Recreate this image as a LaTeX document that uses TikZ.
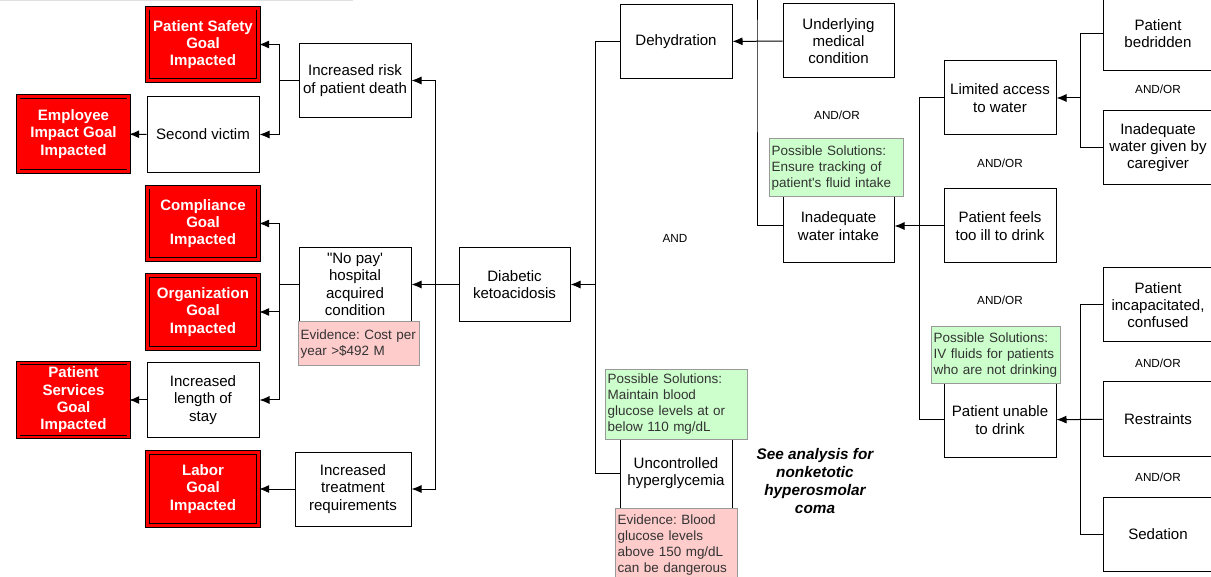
\documentclass[tikz,border=0pt]{standalone}
\usepackage{fontspec}
\setmainfont{Liberation Sans}[Ligatures=TeXOff]
\usetikzlibrary{arrows.meta}
\definecolor{goalred}{RGB}{255,0,0}
\definecolor{solgreen}{RGB}{204,255,204}
\definecolor{evpink}{RGB}{255,204,204}
\definecolor{notegray}{RGB}{51,51,51}
\tikzset{cbox/.style={draw,line width=0.75pt,fill=white,align=center,inner sep=1pt,minimum width=84pt,minimum height=55.5pt,font=\fontsize{11.3}{13}\selectfont}  }
\tikzset{gbox/.style={draw=black,line width=0.6pt,double=goalred,double distance=2.2pt,fill=goalred,text=white,align=center,inner sep=1pt,minimum width=83.6pt,minimum height=54.4pt,font=\fontsize{11.3}{13}\selectfont\bfseries}  }
\tikzset{sbox/.style={draw=black!40,line width=0.75pt,fill=solgreen,text=notegray,align=left,inner sep=2pt,font=\fontsize{10.1}{12}\selectfont\frenchspacing}  }
\tikzset{ebox/.style={sbox,fill=evpink}  }
\tikzset{andor/.style={font=\fontsize{8.8}{10}\selectfont}  }
\tikzset{>={Latex[length=7.5pt,width=6pt]}}

\begin{document}
\begin{tikzpicture}[x=0.75pt,y=-0.75pt,line width=0.75pt]
		\useasboundingbox (0,0) rectangle (1211,577);
		\draw[black!12] (0,1) -- (352,1) -- (352,-2);

		% goals
		\node[gbox] (psafety) at (203,44.5) {Patient Safety\\Goal\\Impacted};
		\node[gbox,minimum width=83pt,minimum height=56.6pt] (employee) at (73.5,134) {Employee\\Impact Goal\\Impacted};
		\node[gbox] (compliance) at (203,223.5) {Compliance\\Goal\\Impacted};
		\node[gbox] (organization) at (203,312) {Organization\\Goal\\Impacted};
		\node[gbox,minimum width=83pt,minimum height=55.5pt] (pservices) at (73.5,400) {Patient\\Services\\Goal\\Impacted};
		\node[gbox] (labor) at (203,489) {Labor\\Goal\\Impacted};

		% effects
		\node[cbox] (risk) at (355,80.5) {Increased risk\\of patient death};
		\node[cbox,minimum height=57.5pt] (victim) at (203,134.5) {Second victim};
		\node[cbox] (nopay) at (355,284.5) {"No pay'\\hospital\\acquired\\condition};
		\node[cbox] (stay) at (203,400) {Increased\\length of\\stay};
		\node[cbox,minimum width=87pt] (treat) at (353,489) {Increased\\treatment\\requirements};
		\node[cbox,minimum width=83.25pt] (dka) at (514.5,284.5) {Diabetic\\ketoacidosis};

		% causes
		\node[cbox] (dehyd) at (676,41.5) {Dehydration};
		\node[cbox,minimum width=83.25pt] (umc) at (838.5,41) {Underlying\\medical\\condition};
		\node[cbox,minimum width=83.25pt] (water) at (838.5,226) {Inadequate\\water intake};
		\node[cbox] (hyper) at (676,473) {Uncontrolled\\hyperglycemia};
		\node[cbox] (limited) at (1000,98) {Limited access\\to water};
		\node[cbox] (ill) at (1000,226) {Patient feels\\too ill to drink};
		\node[cbox] (unable) at (1000,420) {Patient unable\\to drink};
		\node[cbox,minimum width=82.5pt] (bed) at (1158,33.5) {Patient\\bedridden};
		\node[cbox,minimum width=82.5pt] (caregiver) at (1158,147.5) {Inadequate\\water given by\\caregiver};
		\node[cbox,minimum width=82.5pt] (incap) at (1158,305) {Patient\\incapacitated,\\confused};
		\node[cbox,minimum width=82.5pt] (restr) at (1158,419) {Restraints};
		\node[cbox,minimum width=82.5pt] (sed) at (1158,534.5) {Sedation};

		% notes
		\node[ebox,text width=86.75pt,minimum height=33pt] (evcost) at (358.5,344) {Evidence: Cost per\\year >\$492 M};
		\node[sbox,text width=96.5pt,minimum height=43.5pt] (solwater) at (836,168) {Possible Solutions:\\Ensure tracking of\\patient's fluid intake};
		\node[sbox,text width=102.5pt,minimum height=51.75pt] (solglu) at (676,404.5) {Possible Solutions:\\Maintain blood\\glucose levels at or\\below 110 mg/dL};
		\node[ebox,text width=87.5pt,minimum height=55.5pt] (evglu) at (676,545) {Evidence: Blood\\glucose levels\\above 150 mg/dL\\can be dangerous};
		\node[sbox,text width=92.75pt,minimum height=42.75pt] (soliv) at (995.5,355.5) {Possible Solutions:\\IV fluids for patients\\who are not drinking};

		\node[andor] (ao1) at (837,115) {AND/OR};
		\node[andor] (ao2) at (1158,89) {AND/OR};
		\node[andor] (ao3) at (1000,163) {AND/OR};
		\node[andor] (ao4) at (1000,300) {AND/OR};
		\node[andor] (ao5) at (1158,363) {AND/OR};
		\node[andor] (ao6) at (1158,477) {AND/OR};
		\node[andor] (and) at (675,238) {AND};
		\node[align=center,font=\fontsize{11.5}{13.5}\selectfont\bfseries\itshape] (seeal) at (815,481) {See analysis for\\nonketotic\\hyperosmolar\\coma};

		% joints
		\coordinate (j1) at (279,80.5);
		\coordinate (j2) at (279,284.5);
		\coordinate (j3) at (435,284.5);
		\coordinate (j4) at (595,284.5);
		\coordinate (j5) at (757,41);
		\coordinate (top1) at (757,-2);
		\coordinate (j6) at (919,226);
		\coordinate (j7) at (1080,98);
		\coordinate (j8) at (1080,419);

		\draw (risk) -- (j1);
		\draw[->] (j1) |- (psafety.east);
		\draw[->] (j1) |- (victim.east);
		\draw[->] (victim) -- (employee);
		\draw (nopay) -- (j2);
		\draw[->] (j2) |- (compliance.east);
		\draw[->] (j2) |- (organization.east);
		\draw[->] (j2) |- (stay.east);
		\draw[->] (stay) -- (pservices);
		\draw[->] (treat) -- (labor);
		\draw[->] (dka) -- (nopay);
		\draw[->] (j3) |- (risk.east);
		\draw[->] (j3) |- (treat.east);
		\draw[->] (j4) -- (dka);
		\draw (j4) |- (dehyd.west);
		\draw (j4) |- (hyper.west);
		\draw[->] (umc) -- (dehyd);
		\draw (top1) -- (j5) |- (water.west);
		\draw[->] (ill) -- (water);
		\draw (j6) |- (limited.west);
		\draw (j6) |- (unable.west);
		\draw[->] (j7) -- (limited);
		\draw (j7) |- (bed.west);
		\draw (j7) |- (caregiver.west);
		\draw[->] (restr) -- (unable);
		\draw (j8) |- (incap.west);
		\draw (j8) |- (sed.west);
	\end{tikzpicture}
\end{document}
